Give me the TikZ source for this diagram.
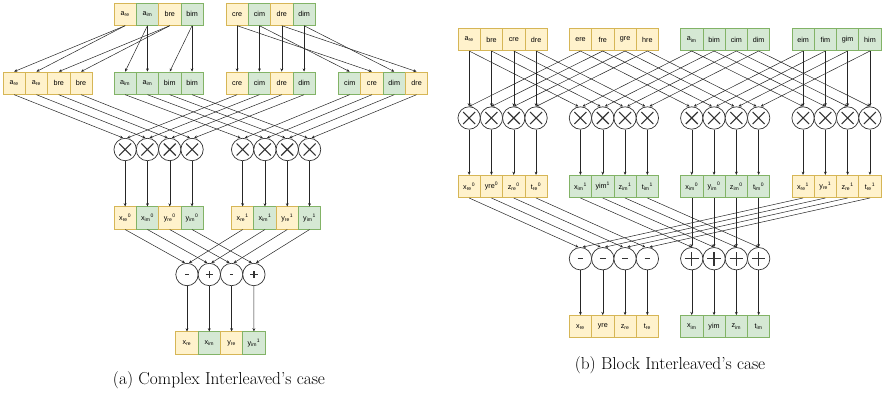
\documentclass[tikz,border=0pt]{standalone}
\usepackage{fontspec}
\newfontfamily\cellfont{Liberation Sans}
\usetikzlibrary{arrows.meta}

\definecolor{yfill}{HTML}{FFF2CC}
\definecolor{ystroke}{HTML}{D6B656}
\definecolor{gfill}{HTML}{D5E8D4}
\definecolor{gstroke}{HTML}{82B366}

\newcommand\sbs[1]{\textsubscript{#1}}
\newcommand\sps[1]{\textsuperscript{#1}}

% a row of four cells: name prefix, left edge, centre y, list of style/label
\newcommand\cellrow[4]{%
  \foreach \st/\lab [count=\k] in {#4}{%
    \node[\st] (#1\k) at ({#2+11.15+22.3*(\k-1)},#3) {\lab};}}
% a row of four operator circles: name prefix, left edge, centre y, style
\newcommand\oprow[4]{%
  \foreach \k in {1,...,4}{%
    \node[#4] (#1\k) at ({#2+11.15+22.3*(\k-1)},#3) {};}}

\tikzset{
  cell/.style={draw, line width=0.8pt, minimum width=22.3pt, minimum height=22.3pt,
    inner sep=0pt, font=\cellfont\fontsize{7.2}{8}\selectfont},
  ycell/.style={cell, fill=yfill, draw=ystroke},
  gcell/.style={cell, fill=gfill, draw=gstroke},
  op/.style={circle, draw=black!80, line width=0.7pt, fill=white,
    minimum size=22.4pt, inner sep=0pt},
  mulop/.style={op, path picture={
    \draw[line width=1.1pt, black!80]
      ([shift={(-6pt,-6pt)}]path picture bounding box.center) --
      ([shift={(6pt,6pt)}]path picture bounding box.center)
      ([shift={(-6pt,6pt)}]path picture bounding box.center) --
      ([shift={(6pt,-6pt)}]path picture bounding box.center);}},
  subsmall/.style={op, path picture={
    \draw[line width=1.2pt, black!80]
      ([xshift=-1.8pt]path picture bounding box.center) --
      ([xshift=1.8pt]path picture bounding box.center);}},
  addsmall/.style={op, path picture={
    \draw[line width=1.2pt, black!80]
      ([xshift=-3.6pt]path picture bounding box.center) --
      ([xshift=3.6pt]path picture bounding box.center)
      ([yshift=-3.6pt]path picture bounding box.center) --
      ([yshift=3.6pt]path picture bounding box.center);}},
  subbig/.style={op, path picture={
    \draw[line width=1.3pt, black!80]
      ([xshift=-2.8pt]path picture bounding box.center) --
      ([xshift=2.8pt]path picture bounding box.center);}},
  addbig/.style={op, path picture={
    \draw[line width=1.3pt, black!80]
      ([xshift=-6.8pt]path picture bounding box.center) --
      ([xshift=6.8pt]path picture bounding box.center)
      ([yshift=-6.8pt]path picture bounding box.center) --
      ([yshift=6.8pt]path picture bounding box.center);}},
  wire/.style={-{Stealth[length=3.2pt,width=2.8pt]}, line width=0.5pt, black!85},
  caption/.style={font=\fontsize{17.3}{20}\selectfont, inner sep=0pt}
}

\begin{document}
\begin{tikzpicture}[x=1pt,y=-1pt]
\useasboundingbox (0,0) rectangle (884,394);

%% ---------------- (a) complex interleaved ----------------
\cellrow{A}{114}{14.15}{ycell/{a\sbs{re}}, gcell/{a\sbs{im}}, ycell/bre, gcell/bim}
\cellrow{C}{226}{14.15}{ycell/cre, gcell/cim, ycell/dre, gcell/dim}

\cellrow{P}{3}{83.15}{ycell/{a\sbs{re}}, ycell/{a\sbs{re}}, ycell/bre, ycell/bre}
\cellrow{Q}{114}{83.15}{gcell/{a\sbs{im}}, gcell/{a\sbs{im}}, gcell/bim, gcell/bim}
\cellrow{R}{226}{83.15}{ycell/cre, gcell/cim, ycell/dre, gcell/dim}
\cellrow{S}{338.5}{83.15}{gcell/cim, ycell/cre, gcell/dim, ycell/dre}

\oprow{M}{114}{149.5}{mulop}
\oprow{N}{231.5}{149.5}{mulop}

\cellrow{X}{114}{218}{ycell/{x\sbs{re}\sps{0}}, gcell/{x\sbs{im}\sps{0}}, ycell/{y\sbs{re}\sps{0}}, gcell/{y\sbs{im}\sps{0}}}
\cellrow{Y}{231.5}{218}{ycell/{x\sbs{re}\sps{1}}, gcell/{x\sbs{im}\sps{1}}, ycell/{y\sbs{re}\sps{1}}, gcell/{y\sbs{im}\sps{1}}}

\node[subsmall] (O1) at (187,274.5) {};
\node[addsmall] (O2) at (209.3,274.5) {};
\node[subsmall] (O3) at (231.6,274.5) {};
\node[addsmall] (O4) at (253.9,274.5) {};

\cellrow{Z}{175.85}{343}{ycell/{x\sbs{re}}, gcell/{x\sbs{im}}, ycell/{y\sbs{re}}, gcell/{y\sbs{im}\sps{1}}}

% splitting the inputs
\foreach \s/\t in {A1/P1, A1/P2, A3/P3, A3/P4, A2/Q1, A2/Q2, A4/Q3, A4/Q4,
                   C1/R1, C1/S2, C2/R2, C2/S1, C3/R3, C3/S4, C4/R4, C4/S3}
  \draw[wire] (\s.south) -- (\t.north);

\foreach \k in {1,...,4}{
  \draw[wire] (P\k.south) -- ([xshift=-2pt]M\k.north);
  \draw[wire] (R\k.south) -- ([xshift=2pt]M\k.north);
  \draw[wire] (Q\k.south) -- ([xshift=-2pt]N\k.north);
  \draw[wire] (S\k.south) -- ([xshift=2pt]N\k.north);
  \draw[wire] (M\k.south) -- (X\k.north);
  \draw[wire] (N\k.south) -- (Y\k.north);
  \draw[wire] (X\k.south) -- ([xshift=-2pt]O\k.north);
  \draw[wire] (Y\k.south) -- ([xshift=2pt]O\k.north);
  \draw[wire] (O\k.south) -- (Z\k.north);
}

\node[caption] (capA) at (219,380) {(a) Complex Interleaved's case};

%% ---------------- (b) block interleaved ----------------
\cellrow{Ta}{458}{39.45}{ycell/{a\sbs{re}}, ycell/bre, ycell/cre, ycell/dre}
\cellrow{Tb}{569.3}{39.45}{ycell/ere, ycell/fre, ycell/gre, ycell/hre}
\cellrow{Tc}{680.6}{39.45}{gcell/{a\sbs{im}}, gcell/bim, gcell/cim, gcell/dim}
\cellrow{Td}{791.9}{39.45}{gcell/eim, gcell/fim, gcell/gim, gcell/him}

\oprow{Ua}{458}{118}{mulop}
\oprow{Ub}{569.3}{118}{mulop}
\oprow{Uc}{680.6}{118}{mulop}
\oprow{Ud}{791.9}{118}{mulop}

\cellrow{Va}{458}{186.45}{ycell/{x\sbs{re}\sps{0}}, ycell/{yre\sps{0}}, ycell/{z\sbs{re}\sps{0}}, ycell/{t\sbs{re}\sps{0}}}
\cellrow{Vb}{569.3}{186.45}{gcell/{x\sbs{im}\sps{1}}, gcell/{yim\sps{1}}, gcell/{z\sbs{im}\sps{1}}, gcell/{t\sbs{im}\sps{1}}}
\cellrow{Vc}{680.6}{186.45}{gcell/{x\sbs{im}\sps{0}}, gcell/{y\sbs{im}\sps{0}}, gcell/{z\sbs{im}\sps{0}}, gcell/{t\sbs{im}\sps{0}}}
\cellrow{Vd}{791.9}{186.45}{ycell/{x\sbs{re}\sps{1}}, ycell/{y\sbs{re}\sps{1}}, ycell/{z\sbs{re}\sps{1}}, ycell/{t\sbs{re}\sps{1}}}

\oprow{Wa}{569.3}{258.7}{subbig}
\oprow{Wb}{680.6}{258.7}{addbig}

\cellrow{Ea}{569.3}{326.65}{ycell/{x\sbs{re}}, ycell/yre, ycell/{z\sbs{re}}, ycell/{t\sbs{re}}}
\cellrow{Eb}{680.6}{326.65}{gcell/{x\sbs{im}}, gcell/yim, gcell/{z\sbs{im}}, gcell/{t\sbs{im}}}

\foreach \k in {1,...,4}{
  \draw[wire] (Ta\k.south) -- (Ua\k.north);
  \draw[wire] (Ta\k.south) -- ([xshift=-2pt]Ub\k.north);
  \draw[wire] (Tb\k.south) -- (Ua\k.north);
  \draw[wire] (Tb\k.south) -- ([xshift=-2pt]Uc\k.north);
  \draw[wire] (Tc\k.south) -- ([xshift=2pt]Ub\k.north);
  \draw[wire] (Tc\k.south) -- (Ud\k.north);
  \draw[wire] (Td\k.south) -- ([xshift=2pt]Uc\k.north);
  \draw[wire] (Td\k.south) -- (Ud\k.north);
  \draw[wire] (Ua\k.south) -- (Va\k.north);
  \draw[wire] (Ub\k.south) -- (Vb\k.north);
  \draw[wire] (Uc\k.south) -- (Vc\k.north);
  \draw[wire] (Ud\k.south) -- (Vd\k.north);
  \draw[wire] (Va\k.south) -- ([xshift=-2pt]Wa\k.north);
  \draw[wire] (Vd\k.south) -- ([xshift=2pt]Wa\k.north);
  \draw[wire] (Vb\k.south) -- (Wb\k.north);
  \draw[wire] (Vc\k.south) -- (Wb\k.north);
  \draw[wire] (Wa\k.south) -- (Ea\k.north);
  \draw[wire] (Wb\k.south) -- (Eb\k.north);
}

\node[caption] (capB) at (670,365) {(b) Block Interleaved's case};
\end{tikzpicture}
\end{document}
